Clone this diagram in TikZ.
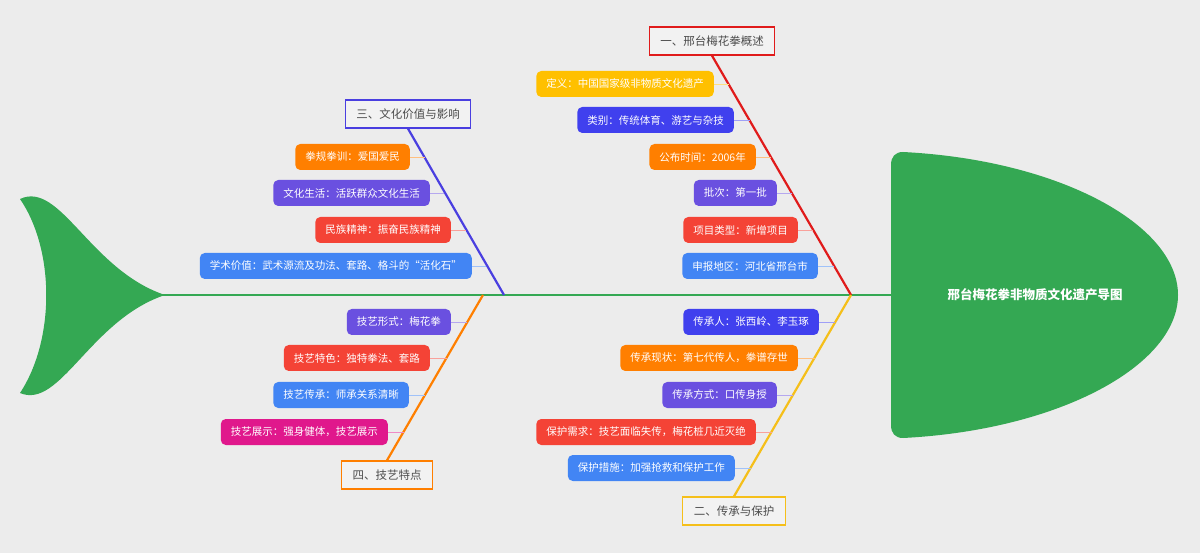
\documentclass[tikz,border=0pt]{standalone}
\usepackage{fontspec}
\setmainfont{Noto Sans CJK SC}
\begin{document}
\begin{tikzpicture}[x=1pt,y=-1pt,
 item/.style={rounded corners=5pt,fill=#1,text=white,anchor=east,minimum height=26pt,inner xsep=10pt,inner ysep=0pt,font=\fontsize{10.5}{12}\selectfont},
 title/.style={draw=#1,line width=1.3pt,fill=white!95!black,text=black!70,minimum height=28pt,inner xsep=11pt,inner ysep=0pt,font=\fontsize{11.5}{13}\selectfont},
 conn/.style={#1!50,line width=0.8pt},
 bone/.style={#1,line width=2.2pt}]
\definecolor{bg}{HTML}{ECECEC}
\definecolor{fg}{HTML}{34A853}
\definecolor{cred}{HTML}{E01B1B}
\definecolor{cblue}{HTML}{4A3FE0}
\definecolor{cyel}{HTML}{F5BF1A}
\definecolor{corg}{HTML}{FF7F00}
\definecolor{iyel}{HTML}{FFC000}
\definecolor{iblue}{HTML}{4040EE}
\definecolor{ipur}{HTML}{6A50E0}
\definecolor{ired}{HTML}{F44336}
\definecolor{isky}{HTML}{4285F4}
\definecolor{imag}{HTML}{E0188C}
\fill[bg] (0,0) rectangle (1200,553);
\useasboundingbox (0,0) rectangle (1200,553);
% spine
\coordinate (sl) at (160,295); \coordinate (sr) at (892,295);
\draw[fg,line width=1.3pt] (sl) -- (sr);
% head
\fill[fg] (903,152) .. controls (1060,160) and (1178,225) .. (1178,295) .. controls (1178,365) and (1060,430) .. (903,438) .. controls (895,438) and (891,433) .. (891,425) -- (891,165) .. controls (891,157) and (895,152) .. (903,152);
\node[text=white,font=\fontsize{12.5}{14}\selectfont\bfseries] (head) at (1035,295) {邢台梅花拳非物质文化遗产导图};
% tail
\fill[fg] (20,199) .. controls (60,180) and (90,270) .. (165,295) .. controls (90,320) and (60,410) .. (20,393) .. controls (55,340) and (55,250) .. (20,199);
% branch 1
\node[title=cred] (t1) at (712,41) {一、邢台梅花拳概述};
\coordinate (b1) at (851,295);
\draw[bone=cred] (t1.south) -- (b1);
\coordinate (p11) at (728.8,84); \coordinate (p12) at (749.6,120); \coordinate (p13) at (771,157);
\coordinate (p14) at (792,193); \coordinate (p15) at (813.3,230); \coordinate (p16) at (834.2,266);
\node[item=iyel] (a11) at (714,84) {定义：中国国家级非物质文化遗产};
\node[item=iblue] (a12) at (734,120) {类别：传统体育、游艺与杂技};
\node[item=corg] (a13) at (756,157) {公布时间：2006年};
\node[item=ipur] (a14) at (777,193) {批次：第一批};
\node[item=ired] (a15) at (798,230) {项目类型：新增项目};
\node[item=isky] (a16) at (818,266) {申报地区：河北省邢台市};
\draw[conn=iyel] (a11.east) -- (p11);
\draw[conn=iblue] (a12.east) -- (p12);
\draw[conn=corg] (a13.east) -- (p13);
\draw[conn=ipur] (a14.east) -- (p14);
\draw[conn=ired] (a15.east) -- (p15);
\draw[conn=isky] (a16.east) -- (p16);
% branch 3
\node[title=cblue] (t3) at (408,114) {三、文化价值与影响};
\coordinate (b3) at (504,295);
\draw[bone=cblue] (t3.south) -- (b3);
\coordinate (p31) at (424.7,157); \coordinate (p32) at (444.4,193); \coordinate (p33) at (465.6,230); \coordinate (p34) at (486.4,266);
\node[item=corg] (a31) at (410,157) {拳规拳训：爱国爱民};
\node[item=ipur] (a32) at (430,193) {文化生活：活跃群众文化生活};
\node[item=ired] (a33) at (451,230) {民族精神：振奋民族精神};
\node[item=isky] (a34) at (472,266) {学术价值：武术源流及功法、套路、格斗的“活化石”};
\draw[conn=corg] (a31.east) -- (p31);
\draw[conn=ipur] (a32.east) -- (p32);
\draw[conn=ired] (a33.east) -- (p33);
\draw[conn=isky] (a34.east) -- (p34);
% branch 2
\node[title=cyel] (t2) at (734,511) {二、传承与保护};
\draw[bone=cyel] (t2.north) -- (b1);
\coordinate (p21) at (835.4,322); \coordinate (p22) at (814.7,358); \coordinate (p23) at (793.4,395);
\coordinate (p24) at (772.1,432); \coordinate (p25) at (751.4,468);
\node[item=iblue] (a21) at (819,322) {传承人：张西岭、李玉琢};
\node[item=corg] (a22) at (798,358) {传承现状：第七代传人，拳谱存世};
\node[item=ipur] (a23) at (777,395) {传承方式：口传身授};
\node[item=ired] (a24) at (756,432) {保护需求：技艺面临失传，梅花桩几近灭绝};
\node[item=isky] (a25) at (735,468) {保护措施：加强抢救和保护工作};
\draw[conn=iblue] (a21.east) -- (p21);
\draw[conn=corg] (a22.east) -- (p22);
\draw[conn=ipur] (a23.east) -- (p23);
\draw[conn=ired] (a24.east) -- (p24);
\draw[conn=isky] (a25.east) -- (p25);
% branch 4
\node[title=corg] (t4) at (387,475) {四、技艺特点};
\coordinate (b4) at (483,295);
\draw[bone=corg] (t4.north) -- (b4);
\coordinate (p41) at (467.4,322); \coordinate (p42) at (446.6,358); \coordinate (p43) at (425.2,395); \coordinate (p44) at (403.8,432);
\node[item=ipur] (a41) at (451,322) {技艺形式：梅花拳};
\node[item=ired] (a42) at (430,358) {技艺特色：独特拳法、套路};
\node[item=isky] (a43) at (409,395) {技艺传承：师承关系清晰};
\node[item=imag] (a44) at (388,432) {技艺展示：强身健体，技艺展示};
\draw[conn=ipur] (a41.east) -- (p41);
\draw[conn=ired] (a42.east) -- (p42);
\draw[conn=isky] (a43.east) -- (p43);
\draw[conn=imag] (a44.east) -- (p44);
\end{tikzpicture}
\end{document}
